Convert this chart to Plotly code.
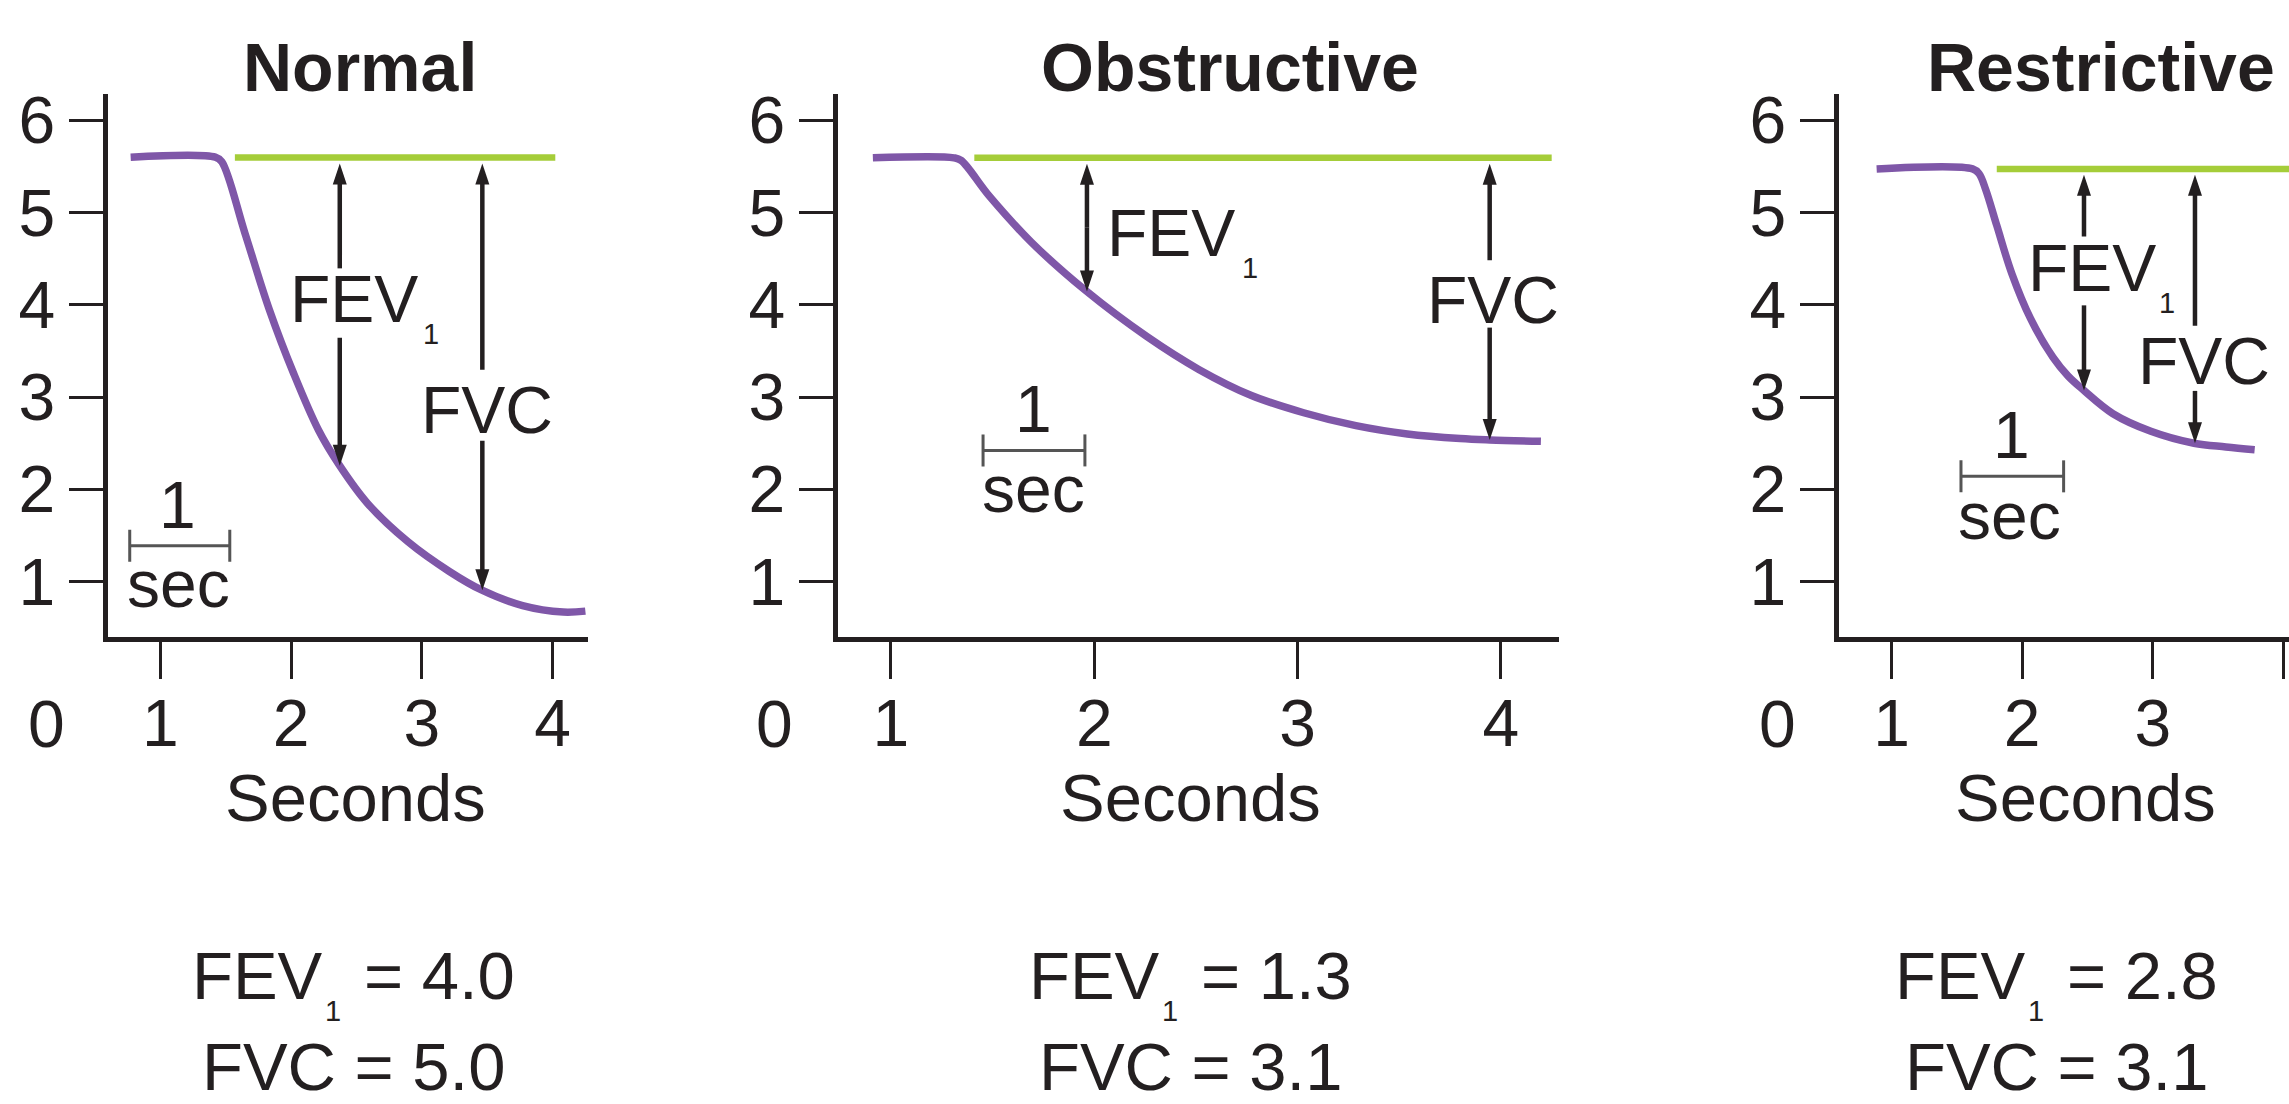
import numpy as np
import plotly.graph_objects as go

# ---------------------------------------------------------------------------
# Data: spirometry volume–time traces (seconds, litres)
# ---------------------------------------------------------------------------
PANELS = ["Normal", "Obstructive", "Restrictive"]

NORMAL_T = [0.773, 1.42, 1.47, 1.646, 1.833, 2.021, 2.21, 2.365, 2.583, 2.895, 3.21, 3.455, 3.77, 4.08, 4.25]
NORMAL_V = [5.60, 5.60, 5.55, 4.78, 3.95, 3.25, 2.64, 2.27, 1.85, 1.43, 1.11, 0.91, 0.74, 0.67, 0.68]

OBSTR_T = [0.911, 1.31, 1.345, 1.483, 1.69, 1.96, 2.256, 2.514, 2.77, 3.03, 3.287, 3.54, 3.80, 3.946, 4.197]
OBSTR_V = [5.593, 5.593, 5.565, 5.18, 4.68, 4.15, 3.66, 3.30, 3.02, 2.83, 2.69, 2.60, 2.55, 2.535, 2.52]

RESTR_T = [0.885, 1.62, 1.67, 1.72, 1.805, 1.92, 2.064, 2.236, 2.35, 2.466, 2.695, 2.985, 3.315, 3.56, 3.78]
RESTR_V = [5.473, 5.473, 5.42, 5.25, 4.86, 4.34, 3.85, 3.43, 3.23, 3.08, 2.82, 2.63, 2.50, 2.46, 2.43]

# starting volume and the span of the green reference line
PLATEAU = [5.596, 5.593, 5.473]
REF_START = [1.57, 1.41, 1.805]
REF_END = [4.02, 4.25, 4.30]

# times at which the FEV1 / FVC arrows are drawn
FEV1_AT = [2.372, 1.964, 2.473]
FVC_AT = [3.462, 3.945, 3.323]

# summary values printed under each panel
FEV1_VALUES = [4.0, 1.3, 2.8]
FVC_VALUES = [5.0, 3.1, 3.1]

X_TICKS = [1, 2, 3, 4]
Y_TICKS = [1, 2, 3, 4, 5, 6]

TRACES_T = [NORMAL_T, OBSTR_T, RESTR_T]
TRACES_V = [NORMAL_V, OBSTR_V, RESTR_V]

# ---------------------------------------------------------------------------
# Styling / layout
# ---------------------------------------------------------------------------
W, H = 2289, 1104
FONT = "Liberation Sans, Arial, Helvetica, sans-serif"
INK = "#231f20"
GREY = "#555555"
PURPLE = "#7f57a8"
GREEN = "#a5cd39"
FS = 66          # tick labels and in-plot labels
FS_CAPTION = 67  # "Seconds" and the summaries
FS_TITLE = 68
FS_SUB = 29      # subscript "1"
ASCENT = 0.905   # font ascent as a fraction of the font size

# plot areas in pixels
BOX_X = [(107.5, 588.0), (837.5, 1559.0), (1838.5, 2289.0)]
BOX_TOP, BOX_BOTTOM = 84.0, 632.0
X_RANGES = [(0.596, 4.27), (0.737, 4.286), (0.593, 4.043)]
Y_RANGE = (0.403, 6.283)
PX_PER_Y = (BOX_BOTTOM - BOX_TOP) / (Y_RANGE[1] - Y_RANGE[0])

# captions in pixels (centre x / baseline y)
TITLE_CX = [359.7, 1229.8, 2100.6]
TITLE_BASE = 79.3
SECONDS_CX = [355, 1190.5, 2085]
SECONDS_BASE = 816.7
ZERO_CX = [46.3, 774.5, 1777]
ZERO_BASE = 743
SUMMARY_SHIFT = [0, 837, 1703]
SUMMARY_FEV_CX, SUMMARY_SUB_CX, SUMMARY_EQ_CX = 257.5, 332.5, 439
SUMMARY_FVC_CX = 354
SUMMARY_FEV_BASE, SUMMARY_SUB_BASE, SUMMARY_FVC_BASE = 996.7, 1020, 1089

# in-plot labels (data coords: centre x, baseline y)
FEV_LABEL = [(2.481, 3.821), (2.377, 4.538), (2.531, 4.155)]
FEV_SUB = [(3.066, 3.579), (2.768, 4.287), (3.105, 3.912)]
FVC_LABEL = [(3.494, 2.617), (3.959, 3.809), (3.392, 3.148)]
FEV_GAP = [(3.643, 4.395), None, (3.994, 4.74)]
FVC_GAP = [(2.527, 3.295), (3.753, 4.483), (3.067, 3.772)]
SCALE_BAR = [(0.766, 1.531, 1.390), (1.453, 1.954, 2.422), (1.531, 2.317, 2.141)]
ONE_LABEL = [(1.132, 1.588), (1.702, 2.631), (1.920, 2.345)]
SEC_LABEL = [(1.140, 0.736), (1.699, 1.760), (1.906, 1.476)]

HEAD_LEN, HEAD_HALF = 21, 7


def px_x(p):
    return p / W


def px_y(p):
    return 1 - p / H


fig = go.Figure()
shapes = []
annotations = []


def add_text(text, x, base, xref, yref, size, bold=False):
    """Place text by its baseline: for data refs base is in data units, else in pixels."""
    if yref == "paper":
        y = px_y(base - ASCENT * size)
    else:
        y = base + ASCENT * size / PX_PER_Y
    annotations.append(dict(
        text=f"<b>{text}</b>" if bold else text,
        x=x, y=y, xref=xref, yref=yref,
        xanchor="center", yanchor="top", showarrow=False,
        borderpad=0, borderwidth=0,
        font=dict(family=FONT, size=size, color=INK),
    ))


def arrow_segment(xref, yref, x, y_from, y_to, head):
    """Vertical shaft from y_from to y_to, with an arrowhead at y_to."""
    d = 1 if y_to > y_from else -1
    shaft_end = y_to - d * (HEAD_LEN * 0.7) / PX_PER_Y if head else y_to
    shapes.append(dict(type="line", xref=xref, yref=yref, x0=x, x1=x,
                       y0=y_from, y1=shaft_end, line=dict(color=INK, width=4.5)))
    if head:
        path = f"M {-HEAD_HALF},{-d * HEAD_LEN} L 0,0 L {HEAD_HALF},{-d * HEAD_LEN} Z"
        shapes.append(dict(type="path", xref=xref, yref=yref,
                           xsizemode="pixel", ysizemode="pixel",
                           xanchor=x, yanchor=y_to, path=path,
                           fillcolor=INK, line=dict(color=INK, width=0)))


def double_arrow(xref, yref, x, top, bottom, gap):
    if gap is None:
        mid = (top + bottom) / 2
        arrow_segment(xref, yref, x, mid, top, True)
        arrow_segment(xref, yref, x, mid, bottom, True)
    else:
        lo, hi = gap
        arrow_segment(xref, yref, x, hi, top, True)
        arrow_segment(xref, yref, x, lo, bottom, True)


layout_axes = {}
for i in range(3):
    n = "" if i == 0 else str(i + 1)
    xref, yref = f"x{n}", f"y{n}"
    x0, x1 = BOX_X[i]

    layout_axes[f"xaxis{n}"] = dict(
        domain=[px_x(x0), px_x(x1)], range=list(X_RANGES[i]), anchor=yref,
        showline=True, linewidth=5, linecolor=INK,
        ticks="outside", ticklen=37, tickwidth=3, tickcolor=INK,
        tickmode="array", tickvals=X_TICKS, ticktext=[str(t) for t in X_TICKS],
        tickfont=dict(family=FONT, size=FS, color=INK), ticklabelstandoff=-12,
        showgrid=False, zeroline=False, fixedrange=True,
    )
    layout_axes[f"yaxis{n}"] = dict(
        domain=[px_y(BOX_BOTTOM), px_y(BOX_TOP)], range=list(Y_RANGE), anchor=xref,
        showline=True, linewidth=5, linecolor=INK,
        ticks="outside", ticklen=34, tickwidth=3, tickcolor=INK,
        tickmode="array", tickvals=Y_TICKS, ticktext=[str(t) for t in Y_TICKS],
        tickfont=dict(family=FONT, size=FS, color=INK),
        showgrid=False, zeroline=False, fixedrange=True,
    )

    t = TRACES_T[i]
    v = TRACES_V[i]
    plateau = PLATEAU[i]

    # green reference line at the starting volume
    fig.add_trace(go.Scatter(
        x=[REF_START[i], REF_END[i]], y=[plateau, plateau], xaxis=xref, yaxis=yref,
        mode="lines", line=dict(color=GREEN, width=6.5), hoverinfo="skip",
    ))
    # exhaled-volume trace
    fig.add_trace(go.Scatter(
        x=t, y=v, xaxis=xref, yaxis=yref, mode="lines",
        line=dict(color=PURPLE, width=7.5, shape="spline", smoothing=1.0),
        hoverinfo="skip",
    ))

    # FEV1 and FVC arrows, from just under the green line down to the trace
    top = plateau - 6 / PX_PER_Y
    fev_bottom = float(np.interp(FEV1_AT[i], t, v))
    fvc_bottom = float(np.interp(FVC_AT[i], t, v))
    double_arrow(xref, yref, FEV1_AT[i], top, fev_bottom, FEV_GAP[i])
    double_arrow(xref, yref, FVC_AT[i], top, fvc_bottom, FVC_GAP[i])

    add_text("FEV", FEV_LABEL[i][0], FEV_LABEL[i][1], xref, yref, FS)
    add_text("1", FEV_SUB[i][0], FEV_SUB[i][1], xref, yref, FS_SUB)
    add_text("FVC", FVC_LABEL[i][0], FVC_LABEL[i][1], xref, yref, FS)

    # 1-second scale bar
    bx0, bx1, by = SCALE_BAR[i]
    shapes.append(dict(type="line", xref=xref, yref=yref, x0=bx0, x1=bx1, y0=by, y1=by,
                       line=dict(color=GREY, width=3)))
    for bx in (bx0, bx1):
        shapes.append(dict(type="line", xref=xref, yref=yref, ysizemode="pixel", yanchor=by,
                           x0=bx, x1=bx, y0=-16, y1=16, line=dict(color=GREY, width=3)))
    add_text("1", ONE_LABEL[i][0], ONE_LABEL[i][1], xref, yref, FS)
    add_text("sec", SEC_LABEL[i][0], SEC_LABEL[i][1], xref, yref, FS)

    # panel title, axis caption, origin label
    add_text(PANELS[i], px_x(TITLE_CX[i]), TITLE_BASE, "paper", "paper", FS_TITLE, bold=True)
    add_text("Seconds", px_x(SECONDS_CX[i]), SECONDS_BASE, "paper", "paper", FS_CAPTION)
    add_text("0", px_x(ZERO_CX[i]), ZERO_BASE, "paper", "paper", FS)

    # summary values below the panel
    s = SUMMARY_SHIFT[i]
    add_text("FEV", px_x(SUMMARY_FEV_CX + s), SUMMARY_FEV_BASE, "paper", "paper", FS_CAPTION)
    add_text("1", px_x(SUMMARY_SUB_CX + s), SUMMARY_SUB_BASE, "paper", "paper", FS_SUB)
    add_text(f"= {FEV1_VALUES[i]:.1f}", px_x(SUMMARY_EQ_CX + s), SUMMARY_FEV_BASE,
             "paper", "paper", FS_CAPTION)
    add_text(f"FVC = {FVC_VALUES[i]:.1f}", px_x(SUMMARY_FVC_CX + s), SUMMARY_FVC_BASE,
             "paper", "paper", FS_CAPTION)

fig.update_layout(
    width=W, height=H, margin=dict(l=0, r=0, t=0, b=0),
    paper_bgcolor="white", plot_bgcolor="white",
    showlegend=False, shapes=shapes, annotations=annotations,
    font=dict(family=FONT, color=INK),
    **layout_axes,
)

fig.write_html("out.html")
